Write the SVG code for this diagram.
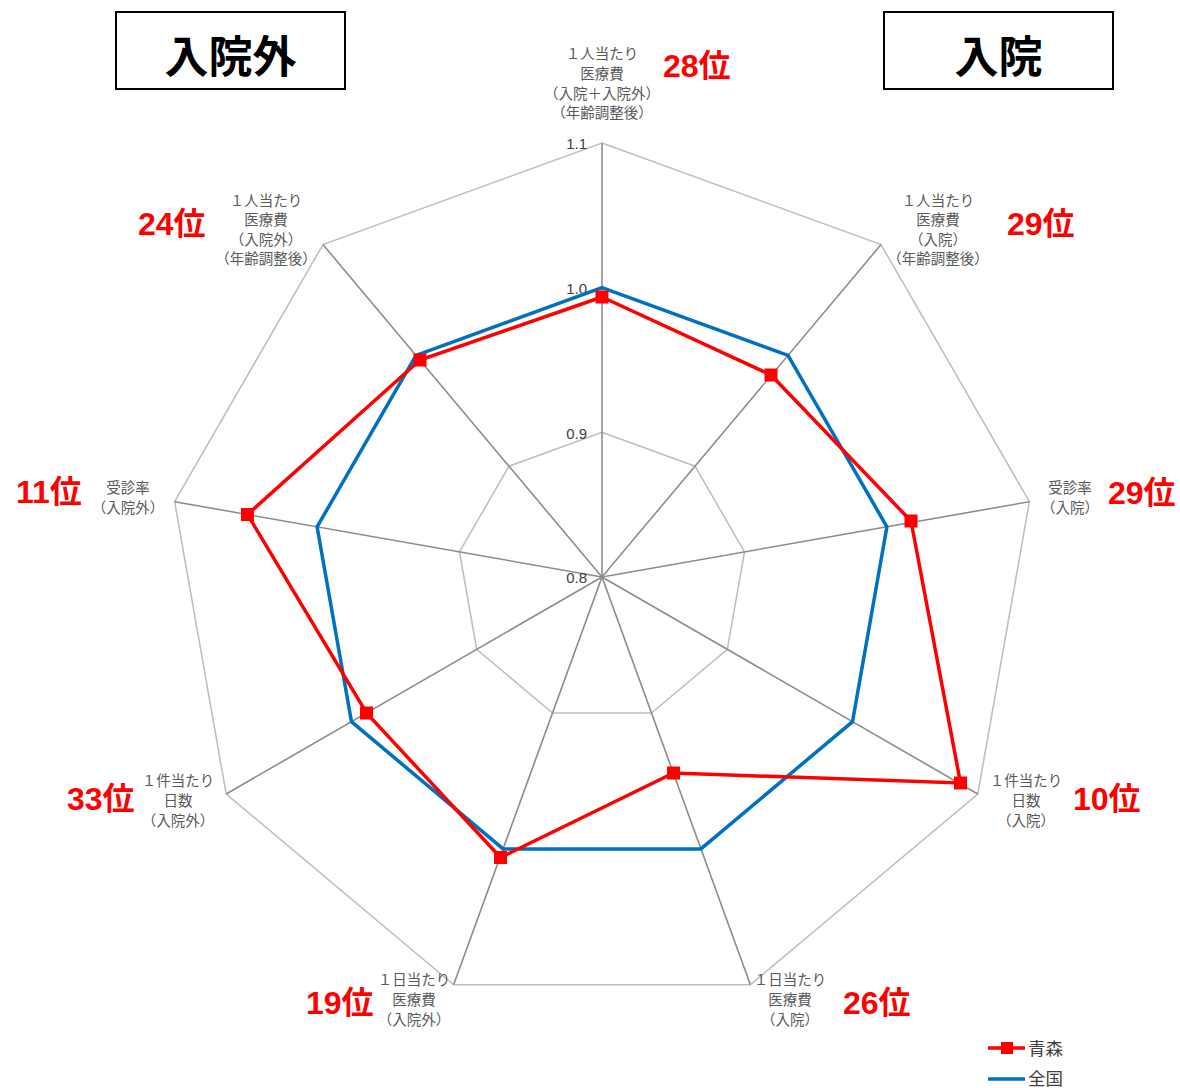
<svg xmlns="http://www.w3.org/2000/svg" width="1180" height="1088" viewBox="0 0 1180 1088">
<style>
.ring{fill:none;stroke:#bfbfbf;stroke-width:1.6}
.axis{stroke:#8c8c8c;stroke-width:1.6}
.scale{font-family:"Liberation Sans",Arial,sans-serif;font-size:15px;fill:#404040;text-anchor:end}
.lbl{font-family:"Noto Sans CJK JP","Noto Sans",sans-serif;font-size:14.5px;fill:#595959;text-anchor:middle}
.rank{font-family:"Liberation Sans","Noto Sans CJK JP",sans-serif;font-size:32px;font-weight:bold;fill:#ff0000}
.title{font-family:"Noto Sans CJK JP",sans-serif;font-size:44px;font-weight:bold;fill:#000;text-anchor:middle}
.box{fill:#fff;stroke:#000;stroke-width:2}
.leg{font-family:"Noto Sans CJK JP",sans-serif;font-size:17.5px;fill:#404040}
.red{fill:none;stroke:#ff0000;stroke-width:3.5;stroke-linejoin:miter}
.blue{fill:none;stroke:#0070c0;stroke-width:3.5;stroke-linejoin:miter}
.mk{fill:#ff0000}
</style>
<rect width="1180" height="1088" fill="#fff"/>
<g id="titles">
<g id="title-outpatient"><rect class="box" x="116" y="12" width="229" height="77"/><text class="title" x="230.5" y="73">入院外</text></g>
<g id="title-inpatient"><rect class="box" x="884" y="12" width="229" height="77"/><text class="title" x="998.5" y="73">入院</text></g>
</g>
<g id="grid">
<polygon class="ring" points="602,143 881,244.6 1029.4,501.7 977.8,794 750.4,984.8 453.6,984.8 226.2,794 174.6,501.7 323,244.6"/>
<polygon class="ring" points="602,287.7 788,355.4 886.9,526.8 852.5,721.7 700.9,848.9 503.1,848.9 351.5,721.7 317.1,526.8 416,355.4"/>
<polygon class="ring" points="602,432.3 695,466.2 744.5,551.9 727.3,649.3 651.5,713 552.5,713 476.7,649.3 459.5,551.9 509,466.2"/>
</g>
<g id="connectors">
<line class="axis" x1="602" y1="577" x2="602" y2="143"/>
<line class="axis" x1="602" y1="577" x2="881" y2="244.6"/>
<line class="axis" x1="602" y1="577" x2="1029.4" y2="501.7"/>
<line class="axis" x1="602" y1="577" x2="977.8" y2="794"/>
<line class="axis" x1="602" y1="577" x2="750.4" y2="984.8"/>
<line class="axis" x1="602" y1="577" x2="453.6" y2="984.8"/>
<line class="axis" x1="602" y1="577" x2="226.2" y2="794"/>
<line class="axis" x1="602" y1="577" x2="174.6" y2="501.7"/>
<line class="axis" x1="602" y1="577" x2="323" y2="244.6"/>
</g>
<g id="scale">
<text class="scale" x="587" y="149">1.1</text>
<text class="scale" x="587" y="294">1.0</text>
<text class="scale" x="587" y="439">0.9</text>
<text class="scale" x="587" y="583">0.8</text>
</g>
<g id="series-zenkoku">
<polygon class="blue" points="602,287.7 788,355.4 886.9,526.8 852.5,721.7 700.9,848.9 503.1,848.9 351.5,721.7 317.1,526.8 416,355.4"/>
</g>
<g id="series-aomori">
<polygon class="red" points="602,297 771,375 911,521 960.5,783 673.5,773 500.5,857.5 366.5,713 247.5,514.5 420,360"/>
<rect class="mk" x="595.5" y="290.5" width="13" height="13"/>
<rect class="mk" x="764.5" y="368.5" width="13" height="13"/>
<rect class="mk" x="904.5" y="514.5" width="13" height="13"/>
<rect class="mk" x="954" y="776.5" width="13" height="13"/>
<rect class="mk" x="667" y="766.5" width="13" height="13"/>
<rect class="mk" x="494" y="851" width="13" height="13"/>
<rect class="mk" x="360" y="706.5" width="13" height="13"/>
<rect class="mk" x="241" y="508" width="13" height="13"/>
<rect class="mk" x="413.5" y="353.5" width="13" height="13"/>
</g>
<g id="axis-labels">
<g id="ax0"><text class="lbl" x="602" y="59">１人当たり</text><text class="lbl" x="602" y="79">医療費</text><text class="lbl" x="602" y="99">（入院＋入院外）</text><text class="lbl" x="602" y="118">（年齢調整後）</text></g>
<g id="ax1"><text class="lbl" x="938" y="206">１人当たり</text><text class="lbl" x="938" y="225">医療費</text><text class="lbl" x="938" y="245">（入院）</text><text class="lbl" x="938" y="264">（年齢調整後）</text></g>
<g id="ax2"><text class="lbl" x="1070" y="493">受診率</text><text class="lbl" x="1070" y="513">（入院）</text></g>
<g id="ax3"><text class="lbl" x="1026" y="786">１件当たり</text><text class="lbl" x="1026" y="806">日数</text><text class="lbl" x="1026" y="826">（入院）</text></g>
<g id="ax4"><text class="lbl" x="790" y="985">１日当たり</text><text class="lbl" x="790" y="1005">医療費</text><text class="lbl" x="790" y="1025">（入院）</text></g>
<g id="ax5"><text class="lbl" x="414" y="985">１日当たり</text><text class="lbl" x="414" y="1005">医療費</text><text class="lbl" x="414" y="1025">（入院外）</text></g>
<g id="ax6"><text class="lbl" x="178" y="786">１件当たり</text><text class="lbl" x="178" y="806">日数</text><text class="lbl" x="178" y="826">（入院外）</text></g>
<g id="ax7"><text class="lbl" x="128" y="493">受診率</text><text class="lbl" x="128" y="513">（入院外）</text></g>
<g id="ax8"><text class="lbl" x="266" y="206">１人当たり</text><text class="lbl" x="266" y="225">医療費</text><text class="lbl" x="266" y="245">（入院外）</text><text class="lbl" x="266" y="264">（年齢調整後）</text></g>
</g>
<g id="ranks">
<text class="rank" x="663" y="77">28位</text>
<text class="rank" x="1007" y="235">29位</text>
<text class="rank" x="1108" y="504">29位</text>
<text class="rank" x="1073" y="810">10位</text>
<text class="rank" x="843" y="1014">26位</text>
<text class="rank" x="306" y="1014">19位</text>
<text class="rank" x="67" y="810">33位</text>
<text class="rank" x="16" y="503">11位</text>
<text class="rank" x="138" y="235">24位</text>
</g>
<g id="legend">
<g id="leg-aomori"><line x1="988" y1="1048" x2="1025" y2="1048" stroke="#ff0000" stroke-width="3.5"/><rect class="mk" x="1001" y="1042" width="12" height="12"/><text class="leg" x="1028" y="1055">青森</text></g>
<g id="leg-zenkoku"><line x1="988" y1="1079" x2="1025" y2="1079" stroke="#0070c0" stroke-width="3.5"/><text class="leg" x="1028" y="1085">全国</text></g>
</g>
</svg>
